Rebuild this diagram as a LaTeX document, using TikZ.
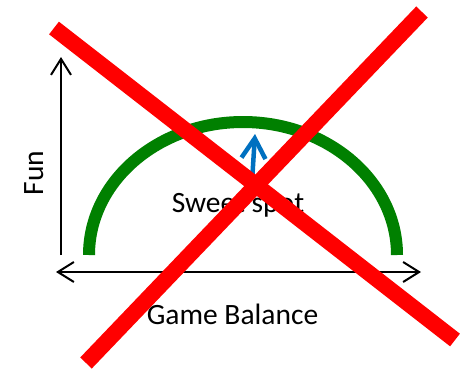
\documentclass[tikz,border=0pt]{standalone}
\usepackage{fontspec}
\setmainfont{Carlito}
\usetikzlibrary{arrows.meta}
\definecolor{arcgreen}{RGB}{0,128,0}
\definecolor{spotblue}{RGB}{0,112,192}
\definecolor{crossred}{RGB}{255,0,0}
\tikzset{axis/.style = {line width=2pt, -{Straight Barb[length=16pt, width=20pt]}}}
\tikzset{both axis/.style = {line width=2pt, {Straight Barb[length=16pt, width=20pt]}-{Straight Barb[length=16pt, width=20pt]}}}
\tikzset{curve/.style = {arcgreen, line width=12pt}}
\tikzset{push/.style = {spotblue, line width=4.5pt, line cap=round, line join=round,
                        -{Straight Barb[length=20pt, width=24pt]}}}
\tikzset{cross/.style = {crossred, line width=16pt}}
\tikzset{caption/.style = {font=\fontsize{29.5}{35}\selectfont, inner sep=0pt, anchor=base}}

\begin{document}
\begin{tikzpicture}[x=1pt, y=-1pt]
      \useasboundingbox (0,0) rectangle (461,370);
      \coordinate (origin) at (61,255);
      \coordinate (funtop) at (61,57);
      \coordinate (balleft) at (56,272);
      \coordinate (balright) at (421,272);
      \draw[axis] (origin) -- (funtop);
      \draw[both axis] (balleft) -- (balright);
      \draw[curve] (89,255) arc[start angle=180, end angle=360,
                                 x radius=154, y radius=133];
      \node[caption] (sweet) at (238,212) {Sweet spot};
      \node[caption] (balance) at (232.5,324) {Game Balance};
      \node[caption, rotate=90] (fun) at (43,173) {Fun};
      \coordinate (spotbase) at (252,182);
      \coordinate (spottip) at (255,134);
      \draw[push] (spotbase) -- (spottip);
      \coordinate (c1) at (54,28);
      \coordinate (c2) at (455,340);
      \coordinate (c3) at (422,12);
      \coordinate (c4) at (86,363);
      \draw[cross] (c1) -- (c2);
      \draw[cross] (c3) -- (c4);
    \end{tikzpicture}
\end{document}
